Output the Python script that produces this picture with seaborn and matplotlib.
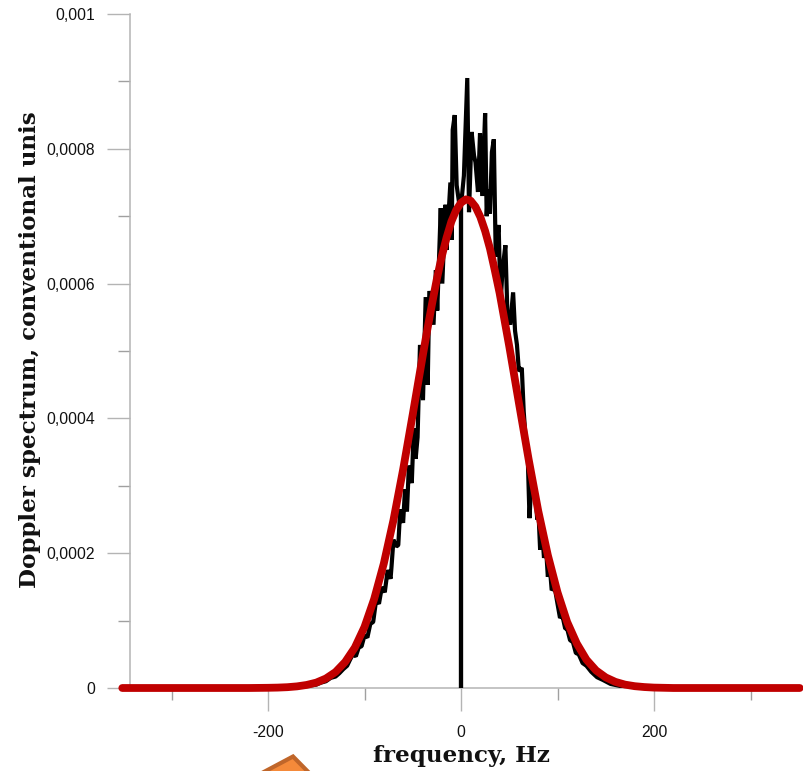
import matplotlib
matplotlib.use("Agg")
import matplotlib.pyplot as plt
from matplotlib.patches import Polygon
import pandas as pd
import seaborn as sns

# measured spectrum: frequency (Hz), value (units of 1e-4)
measured_f = [-351, -170, -165, -160, -155, -150, -145, -140, -135, -130, -126, -122, -118, -115, -112, -109,
              -106, -103, -100, -97, -94, -91, -88, -85, -82, -79, -76, -73, -72, -70, -67, -65, -63, -60,
              -58, -56, -54, -51, -49, -47, -45, -42.5, -39.4, -36.6, -34.5, -32.8, -28.5, -26, -24.6, -21,
              -19.4, -16, -15, -11, -9.6, -8.6, -6.5, -4.5, -2, 0, 0, 0, 1, 3, 6.5, 8.3, 11, 13.5, 15, 17.6,
              19.7, 22, 25, 26.6, 28, 30, 32, 34, 36, 39, 41, 43, 46, 48, 51, 54, 56, 58, 60, 63, 65, 67, 69,
              71, 73, 75, 77, 79, 80, 82, 84, 86, 88, 90, 92, 94, 97, 100, 102.6, 105, 108, 110, 113, 116,
              119, 122, 126, 130, 135, 141, 147, 155, 165, 175, 190, 351]
measured_v = [0, 0, .02, .03, .04, .05, .08, .10, .15, .17, .22, .28, .33, .42, .50, .47,
              .60, .62, .78, .75, .95, .98, 1.3, 1.25, 1.5, 1.42, 1.75, 1.62, 1.8, 2.2, 2.1, 2.12, 2.65, 2.45,
              2.95, 2.62, 3.3, 3.04, 3.85, 3.4, 3.72, 5.09, 4.27, 5.8, 4.5, 5.89, 5.39, 6.2, 5.6, 7.12,
              6.0, 7.17, 6.5, 7.5, 6.65, 8.28, 8.5, 7.46, 7.2, 7.3, 0, 7.2, 7.3, 7.6, 9.05, 7.06, 8.25, 7.9, 7.8, 7.36,
              8.23, 7.3, 8.53, 7.0, 7.4, 7.04, 7.95, 8.14, 6.4, 6.87, 5.7, 6.2, 6.57, 5.6, 5.39, 5.87, 5.3, 5.09, 4.7, 4.75, 4.1, 3.7, 3.5,
              2.52, 3.1, 2.85, 2.9, 2.5, 2.7, 2.05, 2.35, 1.93, 2.1, 1.65, 1.8, 1.45, 1.5, 1.25, 1.04, 1.08, .88, .88, .71, .68,
              .52, .5, .37, .33, .24, .16, .12, .06, .03, .01, 0, 0]

# fitted curve: frequency (Hz), value (units of 1e-4)
fit_f = [-351, -220, -200, -190, -180, -170, -160, -150, -140, -130, -120, -110, -100, -90, -80, -70, -60, -50,
         -40, -35, -30, -25, -20, -15, -10, -5, 0, 5, 10, 15, 20, 25, 30, 35, 40, 50, 60, 70, 80, 90, 100,
         110, 120, 130, 140, 150, 160, 170, 180, 190, 200, 220, 351]
fit_v = [0, 0, .003, .006, .012, .024, .045, .08, .141, .237, .387, .60, .906, 1.32, 1.846, 2.49, 3.24, 4.06,
         4.90, 5.31, 5.70, 6.07, 6.40, 6.68, 6.92, 7.09, 7.20, 7.25, 7.23, 7.14, 6.99, 6.78, 6.52, 6.2, 5.86, 5.07, 4.23, 3.40, 2.63, 1.97, 1.42,
         .98, .66, .42, .26, .157, .091, .05, .027, .014, .006, 0, 0]

x_major = [-200, 0, 200]
x_minor = [-300, -100, 100, 300]
y_major = [0, 0.0002, 0.0004, 0.0006, 0.0008, 0.001]
y_minor = [0.0001, 0.0003, 0.0005, 0.0007, 0.0009]
y_labels = ["0", "0,0002", "0,0004", "0,0006", "0,0008", "0,001"]

sns.set_theme(style="white")
plt.rcParams["font.family"] = ["Liberation Sans", "DejaVu Sans"]
GREY = "#b4b4b4"
W, H = 804, 771

measured = pd.DataFrame({"f": measured_f, "v": [v * 1e-4 for v in measured_v]})
fit = pd.DataFrame({"f": fit_f, "v": [v * 1e-4 for v in fit_v]})

fig = plt.figure(figsize=(W / 100, H / 100), dpi=100, facecolor="white")
ax = fig.add_axes([130 / W, 1 - 688 / H, (W - 130) / W, (688 - 14) / H])
sns.lineplot(data=measured, x="f", y="v", ax=ax, sort=False, estimator=None, errorbar=None,
             color="black", linewidth=3.0, solid_joinstyle="bevel", zorder=3)
sns.lineplot(data=fit, x="f", y="v", ax=ax, sort=False, estimator=None, errorbar=None,
             color="#c00000", linewidth=5.6, solid_capstyle="round", clip_on=False, zorder=4)

ax.set_xlim((130 - 461) / 0.965, (W - 461) / 0.965)
ax.set_ylim(0, 0.001)
sns.despine(ax=ax)
for s in ("left", "bottom"):
    ax.spines[s].set_color(GREY)
    ax.spines[s].set_linewidth(1.1)

ax.set_xticks(x_major)
ax.set_xticks(x_minor, minor=True)
ax.set_yticks(y_major)
ax.set_yticks(y_minor, minor=True)
ax.set_xticklabels([str(v) for v in x_major])
ax.set_yticklabels(y_labels)
ax.tick_params(axis="both", which="major", length=16.5, width=1, color=GREY, labelsize=11.3,
               labelcolor="#111111", bottom=True, left=True)
ax.tick_params(axis="x", which="major", pad=10)
ax.tick_params(axis="y", which="major", pad=8.6)
ax.tick_params(axis="both", which="minor", length=8.5, width=1, color="#a0a0a0", bottom=True, left=True)
ax.set_xlabel("")
ax.set_ylabel("")

label_font = dict(family="DejaVu Serif", fontweight="bold", color="#111111", fontsize=16.6)
fig.text(461 / W, 1 - 756 / H, "frequency, Hz", ha="center", va="center", **label_font)
fig.text(30 / W, 1 - 350 / H, "Doppler spectrum, conventional unis", rotation=90,
         ha="center", va="center", **label_font)

# orange shape cut by the lower edge of the image
fig.add_artist(Polygon([(293 / W, 1 - 756.5 / H), (326 / W, 1 - 790 / H), (230 / W, 1 - 790 / H)],
                       closed=True, transform=fig.transFigure, facecolor="#f58a3a",
                       edgecolor="#c0662a", linewidth=3, joinstyle="miter", clip_on=False))

fig.savefig("out.png", dpi=100)
